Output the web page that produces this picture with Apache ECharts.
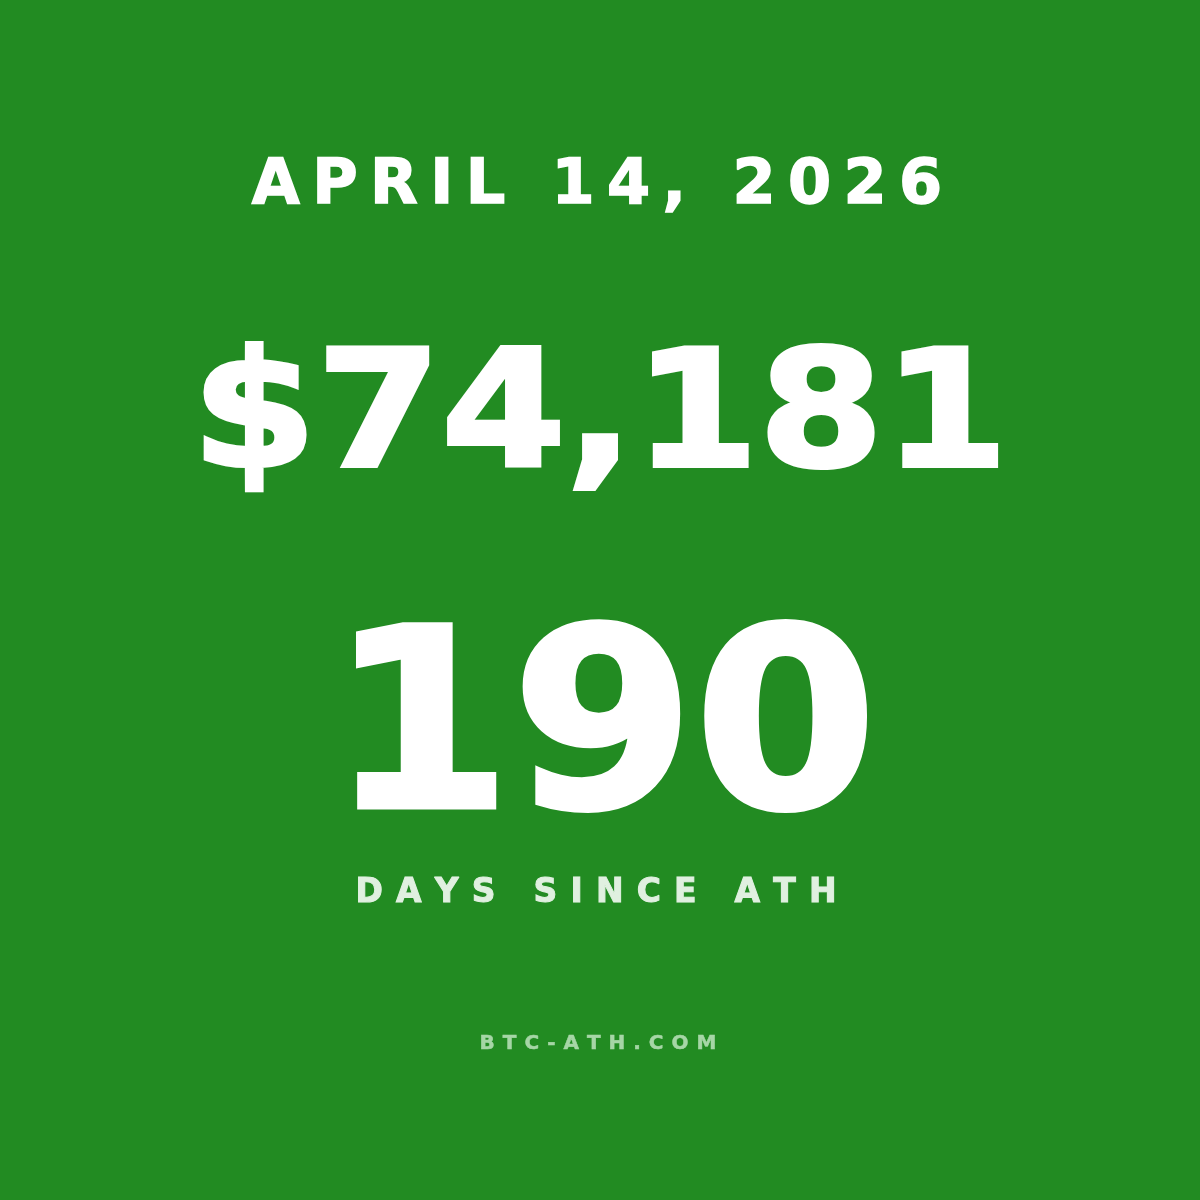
<!DOCTYPE html>
<html>
<head>
<meta charset="utf-8">
<script src="https://cdn.jsdelivr.net/npm/echarts@6/dist/echarts.min.js"></script>
<style>
  html, body { margin: 0; padding: 0; background: #228b22; }
  #main { width: 1200px; height: 1200px; }
</style>
</head>
<body>
<div id="main"></div>
<script>
// values
var dateLabel = 'APRIL 14, 2026';
var priceUsd = 74181;
var daysSinceAth = 190;
var captionLabel = 'DAYS SINCE ATH';
var siteLabel = 'BTC-ATH.COM';

// spread letters apart (no letterSpacing in canvas text here)
function spaced(str, gap) {
    return str.split('').join(gap);
}

var priceText = '$' + priceUsd.toLocaleString('en-US');
var daysText = String(daysSinceAth);

var myChart = echarts.init(document.getElementById('main'), null, { renderer: 'canvas' });

function label(text, x, y, font, fill, sx, strokeW) {
    return {
        type: 'text',
        x: x, y: y,
        scaleX: sx || 1,
        style: {
            text: text,
            x: 0, y: 0,
            font: font,
            fill: fill,
            stroke: strokeW ? fill : null,
            lineWidth: strokeW || 0,
            textAlign: 'center',
            textVerticalAlign: 'middle'
        }
    };
}

var option = {
    backgroundColor: '#228b22',
    graphic: [
        label(spaced(dateLabel, '\u2009'), 597, 187, '900 62px "DejaVu Sans"', '#ffffff', 1, 1.5),
        label(priceText, 600, 424, '900 163px "DejaVu Sans"', '#ffffff', 1.1, 4),
        label(daysText, 603, 742, '900 250px "DejaVu Sans"', '#ffffff', 1.05, 5),
        label(spaced(captionLabel, '\u2009\u2009'), 596, 893, '900 33px "DejaVu Sans"', '#e0f0e0', 1, 1),
        label(spaced(siteLabel, '\u2009\u2009'), 598, 1044, '900 20px "DejaVu Sans"', '#a6d6a6', 1, 0.5)
    ]
};

myChart.setOption(option);
</script>
</body>
</html>
